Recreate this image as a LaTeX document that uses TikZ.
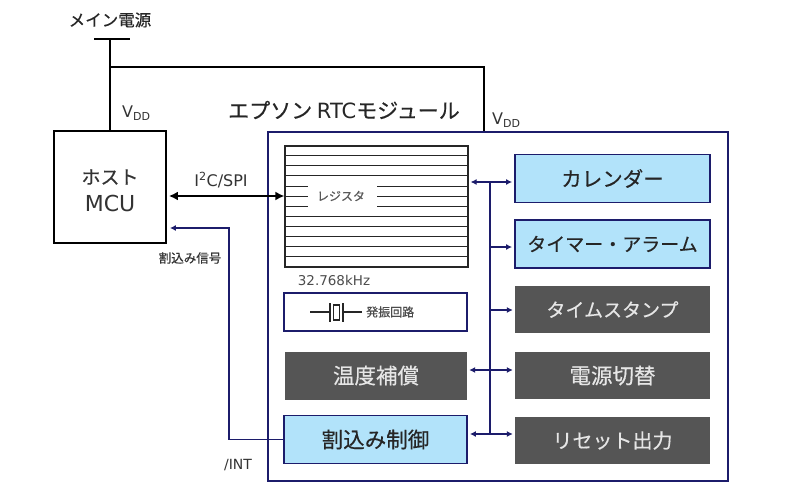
\documentclass[tikz,border=0pt]{standalone}
\usepackage{fontspec}
\setmainfont{Noto Sans CJK JP}[UprightFeatures={FakeBold=0.4}]
\newfontfamily\lat{DejaVu Sans}
\usetikzlibrary{arrows.meta}
\definecolor{navy}{HTML}{1C1C6B}
\definecolor{lblue}{HTML}{B2E3FA}
\definecolor{dgray}{HTML}{555555}
\definecolor{ltext}{HTML}{E6E6E6}
\definecolor{tgray}{HTML}{333333}
\newcommand{\fs}[1]{\fontsize{#1}{#1}\selectfont}
\newcommand{\vdd}{{\lat\fs{16}V\raisebox{-3pt}{\fs{11}DD}}}
\begin{document}
\begin{tikzpicture}[x=1pt,y=-1pt,
  blk/.style={draw=black,line width=1.8pt,fill=white,minimum width=112pt,minimum height=112pt,inner sep=0pt,text=tgray,align=center},
  bluebox/.style={draw=navy,line width=1.8pt,fill=lblue,inner sep=0pt,minimum height=48pt,text=black!85,font=\fs{20}},
  graybox/.style={draw=none,fill=dgray,inner sep=0pt,minimum height=48pt,text=ltext,font=\fs{20}},
  lcol/.style={minimum width=182pt},
  rcol/.style={minimum width=195pt},
  bus/.style={draw=navy,line width=1.2pt},
  busarrow/.style={bus,-{Latex[length=6pt,width=6pt]},shorten >=2pt},
  busdbl/.style={bus,{Latex[length=6pt,width=6pt]}-{Latex[length=6pt,width=6pt]},shorten >=2pt,shorten <=2pt},
  pwr/.style={draw=black,line width=1.8pt},
  lbl/.style={inner sep=0pt,text=tgray}
]
\useasboundingbox[fill=white] (0,0) rectangle (800,495);

% power
\node[lbl,font=\fs{16.5},text=black!85] (mains) at (110,20) {メイン電源};
\node[blk] (mcu) at (110,187) {};
\node[lbl,font=\fs{19}] (mcut1) at (110,177) {ホスト};
\node[lbl,font={\lat\fs{22}}] (mcut2) at (110,203) {MCU};
\coordinate (pbar) at (110,39);
\coordinate (rtcv) at (484,67);
\draw[pwr] ([xshift=-16pt]pbar) -- ([xshift=20pt]pbar);
\draw[pwr] (pbar) -- (mcu.north);
\draw[pwr] (pbar |- rtcv) -- (rtcv) -- (rtcv |- 0,132);

% RTC module
\node[draw=navy,line width=1.8pt,minimum width=460pt,minimum height=349pt,inner sep=0pt] (rtc) at (498,306.5) {};
\node[lbl,font=\fs{21},text=black!85] (title) at (344,110) {エプソン {\lat RTC}モジュール};
\node[lbl,anchor=west] (vdd1) at (122,113) {\vdd};
\node[lbl,anchor=west] (vdd2) at (492,120) {\vdd};

% register block
\node[draw=black!85,line width=1.2pt,minimum width=183pt,minimum height=121pt,inner sep=0pt,fill=white] (reg) at (376.5,206.5) {};
\foreach \yy in {155.5,165.5,175.5,216.5,226.5,236.5,246.5,256.5}
  \draw[black!85,line width=1pt] (reg.west |- 0,\yy) -- (reg.east |- 0,\yy);
\foreach \yy in {186,196,206}{
  \draw[black!85,line width=1pt] (reg.west |- 0,\yy) -- (308,\yy);
  \draw[black!85,line width=1pt] (377,\yy) -- (reg.east |- 0,\yy);}
\node[lbl,font=\fs{12},text=black!65] (regt) at (341,196) {レジスタ};
\node[lbl,font={\lat\fs{13.5}},text=black!70] (khz) at (334,280) {32.768kHz};

% oscillator
\node[draw=navy,line width=1.8pt,minimum width=183pt,minimum height=38pt,inner sep=0pt,fill=white] (osc) at (375.5,312) {};
\draw[black!85,line width=1.2pt] (310,312) -- (330,312);
\draw[black!85,line width=1.4pt] (330,303) -- (330,322);
\draw[black!85,line width=1.2pt] (333.5,305) rectangle (339.5,320);
\draw[black!85,line width=1.4pt] (343,303) -- (343,322);
\draw[black!85,line width=1.2pt] (343,312) -- (362,312);
\node[lbl,font=\fs{12},anchor=west,text=black!70] (osct) at (366,312) {発振回路};

% left column
\node[graybox,lcol,font=\fs{21.5}] (temp) at (376,375.5) {温度補償};
\node[bluebox,minimum width=183pt,font=\fs{21.5}] (intc) at (375.5,439.5) {割込み制御};

% right column
\node[bluebox,rcol,font=\fs{20.5}] (cal) at (612.5,178.5) {カレンダー};
\node[bluebox,rcol,font=\fs{19}] (tmr) at (612.5,244) {タイマー・アラーム};
\node[graybox,rcol,minimum height=47pt,font=\fs{19}] (ts) at (612.5,309.5) {タイムスタンプ};
\node[graybox,rcol,minimum height=47pt,font=\fs{21.5}] (pw) at (612.5,375.5) {電源切替};
\node[graybox,rcol,minimum height=47pt,font=\fs{20}] (rst) at (612.5,440.5) {リセット出力};

% internal bus
\coordinate (busx) at (490,0);
\draw[busdbl] (reg.east |- 0,182) -- (cal.west |- 0,182);
\draw[bus] (busx |- 0,182) -- (busx |- 0,434);
\draw[busarrow] (busx |- 0,247) -- (tmr.west |- 0,247);
\draw[busarrow] (busx |- 0,310) -- (ts.west |- 0,310);
\draw[busdbl] (temp.east |- 0,370) -- (pw.west |- 0,370);
\draw[busdbl] (intc.east |- 0,434) -- (rst.west |- 0,434);

% host interface
\coordinate (i2c) at (0,196);
\draw[line width=2.4pt,{Latex[length=9pt,width=9pt]}-{Latex[length=9pt,width=9pt]},shorten <=2pt] (mcu.east |- i2c) -- (reg.west |- i2c);
\node[lbl,font={\lat\fs{16}}] (i2ct) at (221,180) {I\textsuperscript{2}C/SPI};

% interrupt
\coordinate (intcorner) at (229,228);
\draw[bus,-{Latex[length=6pt,width=6pt]},shorten >=3pt] (intc.west) -| (intcorner) -- (mcu.east |- intcorner);
\node[lbl,font=\fs{12.5}] (intsig) at (190,258) {割込み信号};
\node[lbl,font={\lat\fs{14}}] (intn) at (238,465) {/INT};
\end{tikzpicture}
\end{document}
